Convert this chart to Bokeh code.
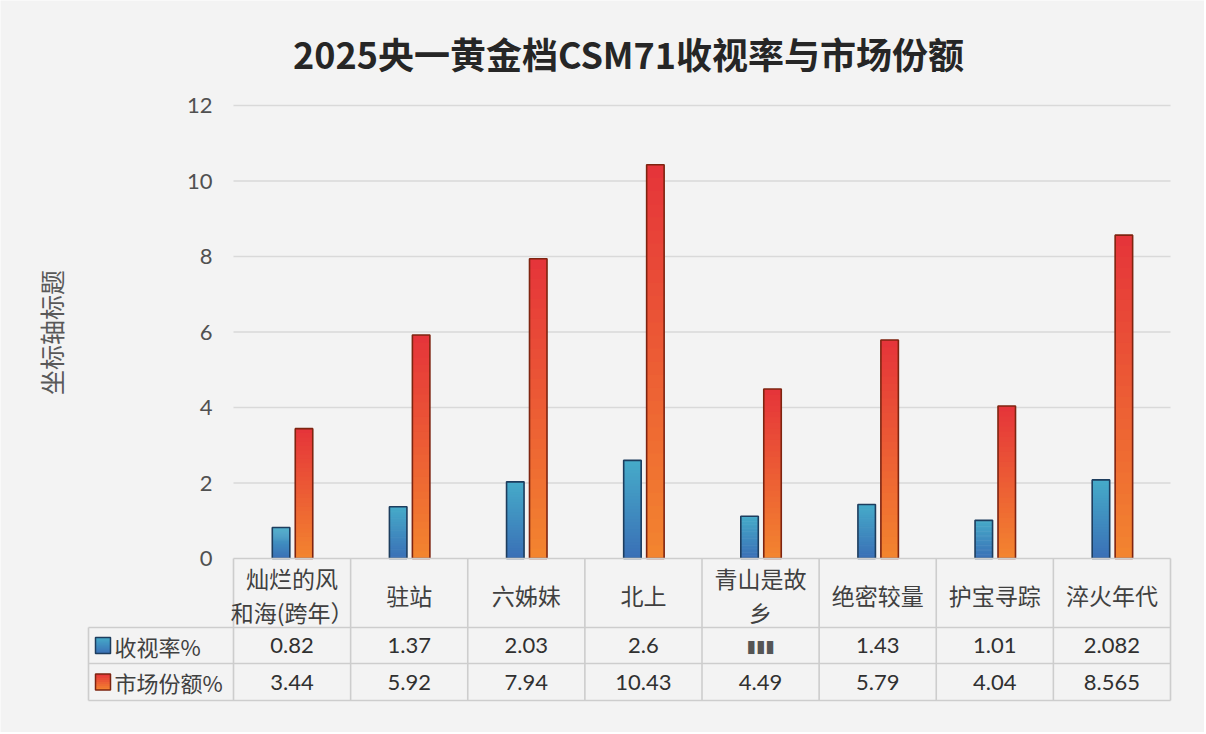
import math
from bokeh.plotting import figure
from bokeh.models import Range1d, LinearAxis, FixedTicker
from bokeh.core.properties import value
from bokeh.embed import file_html
from bokeh.resources import INLINE

# ---------------- data ----------------
title_text = "2025央一黄金档CSM71收视率与市场份额"
y_axis_title = "坐标轴标题"
categories = ["灿烂的风\n和海(跨年）", "驻站", "六姊妹", "北上", "青山是故\n乡", "绝密较量", "护宝寻踪", "淬火年代"]
series_names = ["收视率%", "市场份额%"]
ratings = [0.82, 1.37, 2.03, 2.6, 1.12, 1.43, 1.01, 2.082]          # 5th value is masked in the source; bar height estimated
ratings_labels = ["0.82", "1.37", "2.03", "2.6", "▮▮▮", "1.43", "1.01", "2.082"]
shares = [3.44, 5.92, 7.94, 10.43, 4.49, 5.79, 4.04, 8.565]
shares_labels = ["3.44", "5.92", "7.94", "10.43", "4.49", "5.79", "4.04", "8.565"]
y_ticks = [0, 2, 4, 6, 8, 10, 12]

# ---------------- layout helpers (page pixels -> data) ----------------
OX, OY = 233.0, 558.0          # page position of (x=0, y=0)
SX, SY = 117.125, 37.75        # pixels per category / per value unit
W, H = 1204, 732


def dx(px):
    return (px - OX) / SX


def dy(py):
    return (OY - py) / SY


BG = "#f3f3f3"
BORDER = "#cdcdcd"
GRID = "#d9d9d9"
TXT = "#404040"
CJK = "Noto Sans CJK SC"
NUM = "Lato"

p = figure(width=W, height=H,
           x_range=Range1d(dx(0), dx(W)), y_range=Range1d(dy(H), dy(0)),
           x_axis_location=None, y_axis_location=None,
           toolbar_location=None, output_backend="svg",
           min_border=0, background_fill_color=BG, border_fill_color=BG,
           outline_line_color=None)
p.xgrid.visible = False
p.ygrid.visible = False

# y axis placed at the left edge of the category area
yaxis = LinearAxis(fixed_location=0, ticker=FixedTicker(ticks=y_ticks),
                   axis_line_color=None, major_tick_line_color=None,
                   minor_tick_line_color=None, major_label_standoff=15,
                   major_label_text_font_size="22px",
                   major_label_text_color="#505050",
                   major_label_text_font=NUM)
p.add_layout(yaxis, "left")

n_cat = len(categories)

# gridlines (from ticks)
gt = [t for t in y_ticks if t != 0]
p.segment(x0=[0] * len(gt), x1=[n_cat] * len(gt), y0=gt, y1=gt,
          line_color=GRID, line_width=1.5)


def hexmix(c0, c1, t):
    a = [int(c0[i:i + 2], 16) for i in (1, 3, 5)]
    b = [int(c1[i:i + 2], 16) for i in (1, 3, 5)]
    return "#%02x%02x%02x" % tuple(round(a[j] + (b[j] - a[j]) * t) for j in range(3))


series = [
    (ratings, -0.094, "#3a6fb6", "#46abc9", "#1d3d5e"),
    (shares, 0.102, "#f3852f", "#e5343a", "#7e2410"),
]
BAR_W = 17.5 / SX
NSL = 30
for vals, off, c_bot, c_top, c_line in series:
    xs, bots, tops, cols = [], [], [], []
    for i, v in enumerate(vals):
        for k in range(NSL):
            xs.append(i + 0.5 + off)
            bots.append(v * k / NSL)
            tops.append(min(v, v * (k + 1.4) / NSL))
            cols.append(hexmix(c_bot, c_top, (k + 0.5) / NSL))
    p.vbar(x=xs, width=BAR_W, bottom=bots, top=tops, fill_color=cols,
           line_color=None)
    p.vbar(x=[i + 0.5 + off for i in range(n_cat)], width=BAR_W, bottom=0,
           top=vals, fill_color=None, line_color=c_line, line_width=1.6)

# ---------------- data table ----------------
r1, r2, r3 = dy(627), dy(663), dy(700)
hl = dx(88)
p.segment(x0=[0, hl, hl, hl], x1=[n_cat] * 4, y0=[0, r1, r2, r3], y1=[0, r1, r2, r3],
          line_color=BORDER, line_width=1.6)
vx = list(range(n_cat + 1))
p.segment(x0=vx, x1=vx, y0=[0] * len(vx), y1=[r3] * len(vx),
          line_color=BORDER, line_width=1.6)
p.segment(x0=[hl], x1=[hl], y0=[r1], y1=[r3], line_color=BORDER, line_width=1.6)

centers = [i + 0.5 for i in range(n_cat)]
p.text(x=centers, y=[dy(594)] * n_cat, text=categories,
       text_font=value(CJK), text_font_size="23px", text_color=TXT,
       text_align="center", text_baseline="middle", text_line_height=1.0)

row_y = [dy(645), dy(681.5)]
for labels, yy in ((ratings_labels, row_y[0]), (shares_labels, row_y[1])):
    normal = [(c, t) for c, t in zip(centers, labels) if "▮" not in t]
    masked = [(c, t) for c, t in zip(centers, labels) if "▮" in t]
    p.text(x=[c for c, _ in normal], y=[yy] * len(normal), text=[t for _, t in normal],
           text_font=value(NUM), text_font_size="22px", text_color="#303030",
           text_align="center", text_baseline="middle")
    if masked:
        p.text(x=[c for c, _ in masked], y=[yy] * len(masked), text=[t for _, t in masked],
               text_font=value("DejaVu Sans"), text_font_size="17px", text_color="#555555",
               text_align="center", text_baseline="middle")

# row headers with legend keys
for (vals, off, c_bot, c_top, c_line), name, yy in zip(series, series_names, row_y):
    kb, kt = yy - 8 / SY, yy + 8 / SY
    ks = 8
    p.quad(left=[dx(95)] * ks, right=[dx(110)] * ks,
           bottom=[kb + (kt - kb) * k / ks for k in range(ks)],
           top=[kb + (kt - kb) * min(1, (k + 1.3) / ks) for k in range(ks)],
           fill_color=[hexmix(c_bot, c_top, (k + 0.5) / ks) for k in range(ks)],
           line_color=None)
    p.quad(left=[dx(95)], right=[dx(110)], bottom=[kb], top=[kt],
           fill_color=None, line_color=c_line, line_width=1.5)
    p.text(x=[dx(114)], y=[yy], text=[name], text_font=value(CJK),
           text_font_size="22px", text_color=TXT, text_align="left",
           text_baseline="middle")

# titles
p.text(x=[dx(628)], y=[dy(52)], text=[title_text], text_font=value(CJK),
       text_font_size="36px", text_font_style="bold", text_color="#262626",
       text_align="center", text_baseline="middle")
p.text(x=[dx(50)], y=[dy(332)], text=[y_axis_title], text_font=value(CJK),
       text_font_size="25px", text_color="#595959", angle=math.pi / 2,
       text_align="center", text_baseline="middle")

open("out.html", "w").write(file_html(p, INLINE))
